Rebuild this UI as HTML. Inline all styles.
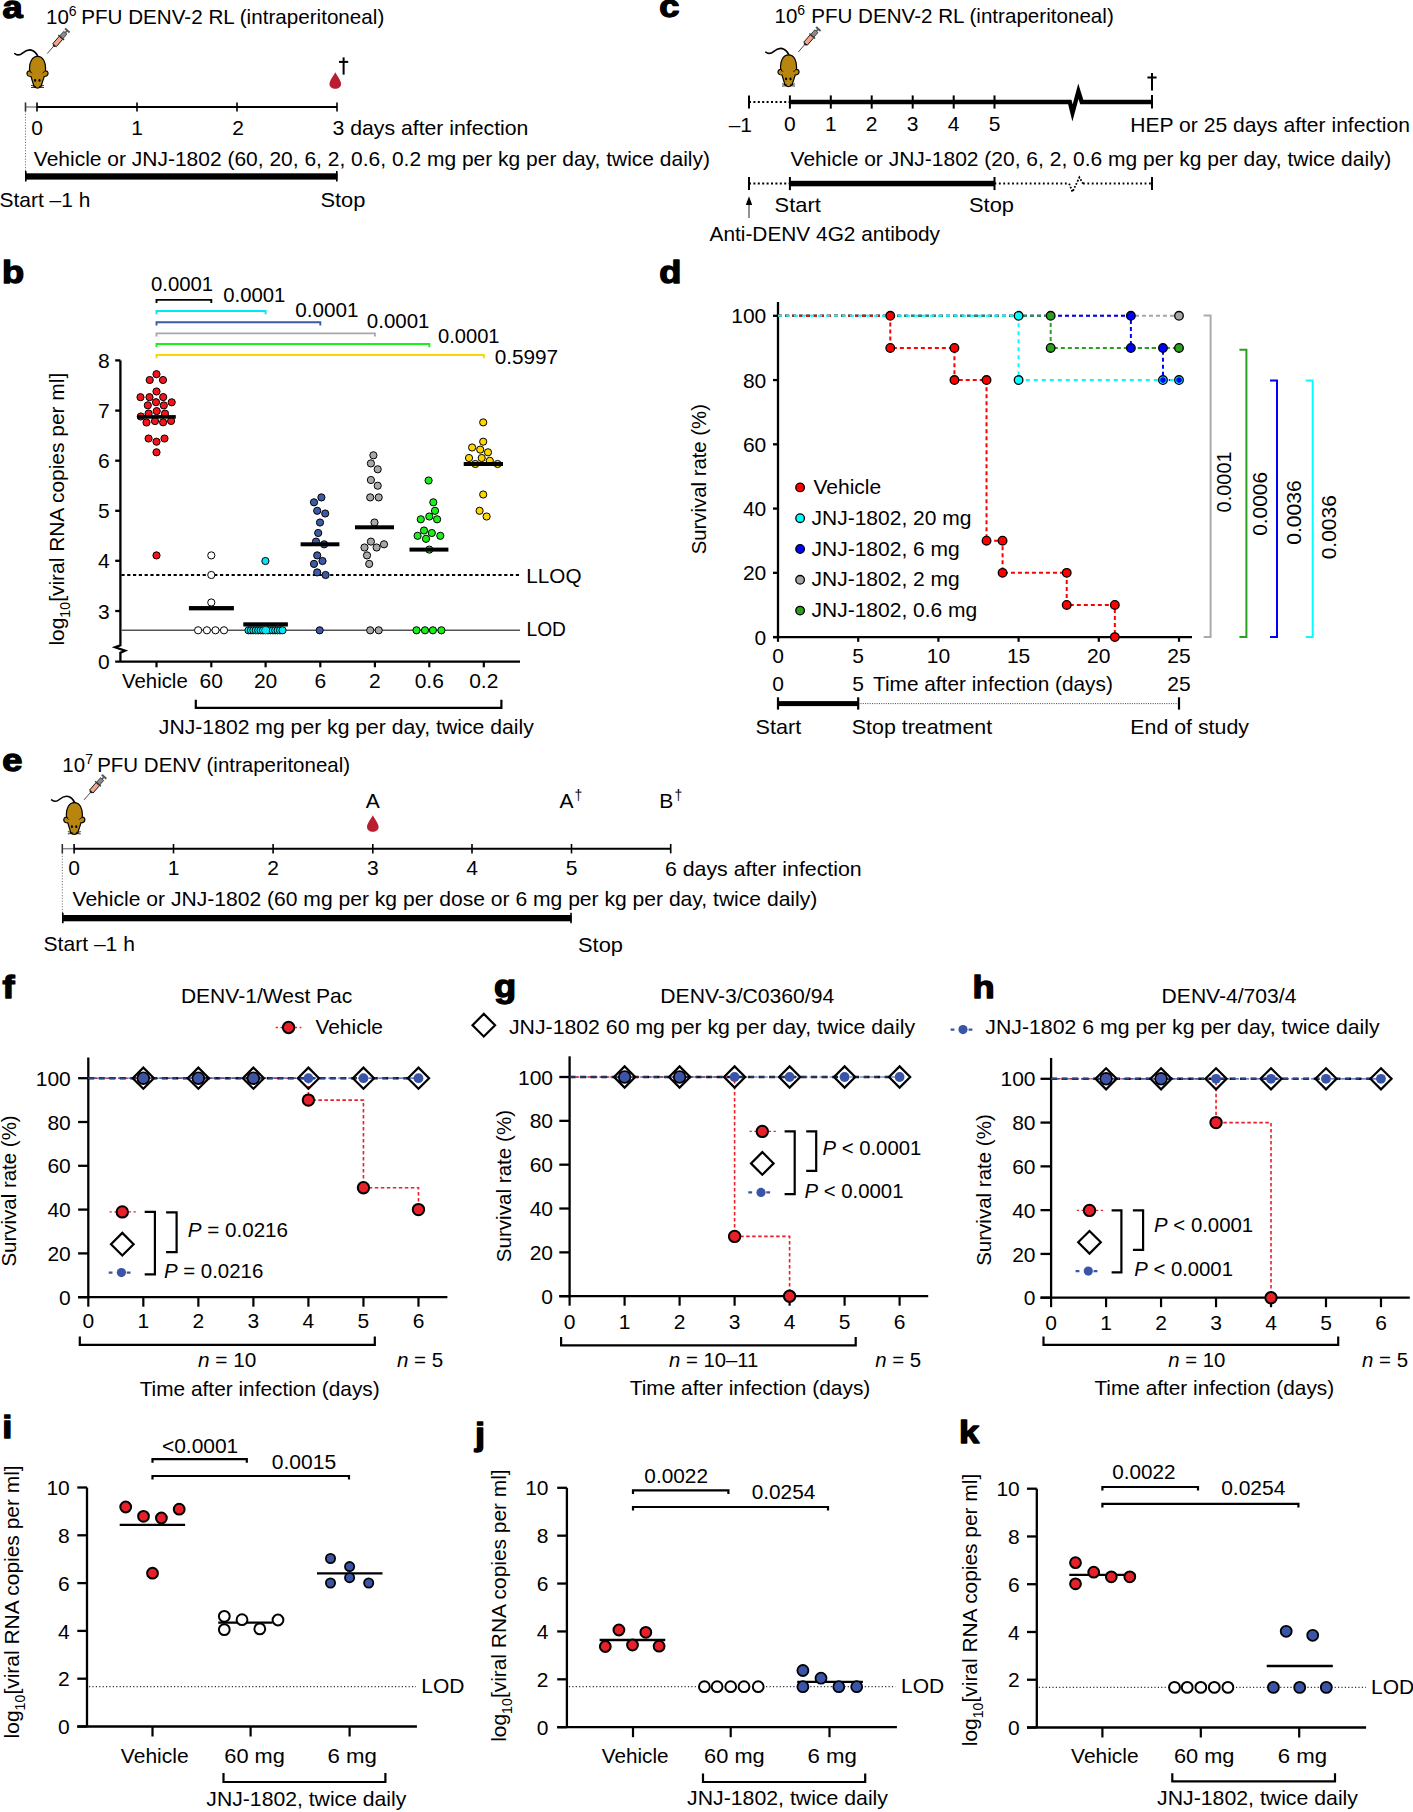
<!DOCTYPE html>
<html><head><meta charset="utf-8"><style>
html,body{margin:0;padding:0;background:#fff;}
svg{display:block;}
text{font-family:"Liberation Sans",sans-serif;font-size:21px;fill:#000;}
</style></head><body>
<svg width="1413" height="1812" viewBox="0 0 1413 1812">
<defs><g id="mouse">
<path d="M4.8,28.6 C7.5,30.5 10.5,30 12.5,28.2 C15,26 19,24 22.5,25.5 C25,26.5 26.5,28.5 28,31.5" fill="none" stroke="#000" stroke-width="1.6" stroke-linecap="round"/>
<path d="M27.6,31.3 C33,31.3 35.6,37 35.6,43.5 C35.6,44.5 35.5,45.5 35.3,46 C37.5,45.5 38.3,47.5 38,49 C37.6,51 36,51.5 34.2,51.5 L31,61.5 C29.5,63.6 25.5,63.6 24,61.5 L21,51.5 C19,51.5 17.3,50.8 17,49 C16.8,47.3 18,45.5 20,46 C19.7,45.5 19.5,44.5 19.5,43.5 C19.5,37 22.2,31.3 27.6,31.3 Z" fill="#b8860e" stroke="#000" stroke-width="1.2"/>
<path d="M22,48.3 C21.5,47.5 20.8,47 20,46.5 M32.5,48.3 C33,47.5 33.8,47 34.6,46.5" fill="none" stroke="#000" stroke-width="1"/>
<ellipse cx="25.1" cy="55.4" rx="1.1" ry="1.4" fill="#000"/><ellipse cx="29.5" cy="55.4" rx="1.1" ry="1.4" fill="#000"/>
<path d="M21,60.3 L26,61.5 M21,62.6 L26,62.2 M34,60.3 L29,61.5 M34,62.6 L29,62.2" stroke="#000" stroke-width="0.8"/>
<g transform="translate(37.3 28.5) rotate(-49)">
<line x1="0" y1="0" x2="10.5" y2="0" stroke="#444" stroke-width="0.9"/>
<path d="M9.5,-0.9 L11,-2.2 L11,2.2 L9.5,0.9 Z" fill="#222"/>
<rect x="11" y="-2.3" width="10" height="4.6" fill="#f2a48a" stroke="#111" stroke-width="0.9"/>
<rect x="21" y="-2.1" width="6.5" height="4.2" fill="#8a8a8a" stroke="#333" stroke-width="0.8"/>
<line x1="21.2" y1="-3.8" x2="21.2" y2="3.8" stroke="#333" stroke-width="1.3"/>
<line x1="27.5" y1="0" x2="30.5" y2="0" stroke="#555" stroke-width="1.6"/>
<line x1="30.5" y1="-3" x2="30.5" y2="3" stroke="#555" stroke-width="2"/>
</g>
</g><g id="drop"><path d="M0,-10.8 C2,-7 5.8,-2.5 5.8,0.8 C5.8,4 3.2,5.8 0,5.8 C-3.2,5.8 -5.8,4 -5.8,0.8 C-5.8,-2.5 -2,-7 0,-10.8 Z" fill="#b91e30"/></g></defs>
<rect width="1413" height="1812" fill="#fff"/>
<text transform="translate(2.56 18.8) scale(1.17 1)" x="0" y="-0.65" font-weight="bold" stroke="#000" stroke-width="1.3" stroke-linejoin="round" style="font-size:31px">a</text>
<text x="46" y="23.5" style="font-size:20.5px">10</text>
<text x="68.8" y="16" style="font-size:14px">6</text>
<text x="81.15" y="23.5" textLength="303.11" lengthAdjust="spacingAndGlyphs">PFU DENV-2 RL (intraperitoneal)</text>
<use href="#mouse" transform="translate(10 25)"/>
<use href="#drop" transform="translate(335.3 83)"/>
<line x1="343.6" y1="57.4" x2="343.6" y2="74.6" stroke="#000" stroke-width="2"/>
<line x1="339" y1="61.9" x2="348.2" y2="61.9" stroke="#000" stroke-width="2"/>
<line x1="25.5" y1="107" x2="37" y2="107" stroke="#888" stroke-width="1.5"/>
<line x1="37" y1="107" x2="337" y2="107" stroke="#000" stroke-width="2"/>
<line x1="25.5" y1="102.4" x2="25.5" y2="111.6" stroke="#333" stroke-width="1.6"/>
<line x1="37" y1="102.4" x2="37" y2="111.6" stroke="#000" stroke-width="1.6"/>
<line x1="137" y1="102.4" x2="137" y2="111.6" stroke="#000" stroke-width="1.6"/>
<line x1="237" y1="102.4" x2="237" y2="111.6" stroke="#000" stroke-width="1.6"/>
<line x1="337" y1="102.4" x2="337" y2="111.6" stroke="#000" stroke-width="1.6"/>
<text x="37" y="135" text-anchor="middle">0</text>
<text x="137" y="135" text-anchor="middle">1</text>
<text x="238" y="135" text-anchor="middle">2</text>
<text x="332.45" y="135" textLength="195.99" lengthAdjust="spacingAndGlyphs">3 days after infection</text>
<line x1="25.5" y1="111" x2="25.5" y2="173" stroke="#777" stroke-width="1" stroke-dasharray="1.2 1.6"/>
<text x="33.8" y="165.6" textLength="676.18" lengthAdjust="spacingAndGlyphs">Vehicle or JNJ-1802 (60, 20, 6, 2, 0.6, 0.2 mg per kg per day, twice daily)</text>
<rect x="25" y="173.3" width="312.5" height="6.3" fill="#000"/>
<line x1="25.8" y1="171" x2="25.8" y2="181.5" stroke="#000" stroke-width="1.6"/>
<line x1="336.8" y1="171" x2="336.8" y2="181.5" stroke="#000" stroke-width="1.6"/>
<text x="-0.44" y="206.5" textLength="90.83" lengthAdjust="spacingAndGlyphs">Start –1 h</text>
<text x="320.42" y="206.6" textLength="45.01" lengthAdjust="spacingAndGlyphs">Stop</text>
<text transform="translate(659.2 18) scale(1.17 1)" x="0" y="-0.65" font-weight="bold" stroke="#000" stroke-width="1.3" stroke-linejoin="round" style="font-size:31px">c</text>
<text x="774.6" y="22.6" style="font-size:20.5px">10</text>
<text x="797.3" y="15.2" style="font-size:14px">6</text>
<text x="811.15" y="22.6" textLength="302.6" lengthAdjust="spacingAndGlyphs">PFU DENV-2 RL (intraperitoneal)</text>
<use href="#mouse" transform="translate(761 23.5)"/>
<line x1="749" y1="102" x2="789.9" y2="102" stroke="#000" stroke-width="2" stroke-dasharray="2 2.4"/>
<polyline points="789.9,102 1069.8,102 1072.5,113 1078.4,91.3 1081.7,102 1152,102" fill="none" stroke="#000" stroke-width="4.3" stroke-linejoin="miter" stroke-miterlimit="10"/>
<line x1="749" y1="95.4" x2="749" y2="108.6" stroke="#000" stroke-width="2"/>
<line x1="789.9" y1="95.4" x2="789.9" y2="108.6" stroke="#000" stroke-width="2"/>
<line x1="830.8" y1="95.4" x2="830.8" y2="108.6" stroke="#000" stroke-width="2"/>
<line x1="871.7" y1="95.4" x2="871.7" y2="108.6" stroke="#000" stroke-width="2"/>
<line x1="912.7" y1="95.4" x2="912.7" y2="108.6" stroke="#000" stroke-width="2"/>
<line x1="953.7" y1="95.4" x2="953.7" y2="108.6" stroke="#000" stroke-width="2"/>
<line x1="994.5" y1="95.4" x2="994.5" y2="108.6" stroke="#000" stroke-width="2"/>
<line x1="1152" y1="95" x2="1152" y2="108.5" stroke="#000" stroke-width="2"/>
<line x1="1152" y1="73" x2="1152" y2="90.6" stroke="#000" stroke-width="2"/>
<line x1="1147.4" y1="77.5" x2="1156.6" y2="77.5" stroke="#000" stroke-width="2"/>
<text x="752" y="131.8" text-anchor="end">–1</text>
<text x="789.9" y="131.3" text-anchor="middle">0</text>
<text x="830.8" y="131.3" text-anchor="middle">1</text>
<text x="871.7" y="131.3" text-anchor="middle">2</text>
<text x="912.7" y="131.3" text-anchor="middle">3</text>
<text x="953.7" y="131.3" text-anchor="middle">4</text>
<text x="994.5" y="131.3" text-anchor="middle">5</text>
<text x="1130.31" y="131.5" textLength="279.7" lengthAdjust="spacingAndGlyphs">HEP or 25 days after infection</text>
<text x="790.6" y="165.8" textLength="600.71" lengthAdjust="spacingAndGlyphs">Vehicle or JNJ-1802 (20, 6, 2, 0.6 mg per kg per day, twice daily)</text>
<line x1="749" y1="183.5" x2="789.9" y2="183.5" stroke="#000" stroke-width="2" stroke-dasharray="2 2.4"/>
<rect x="789.9" y="180.8" width="204.6" height="5.5" fill="#000"/>
<line x1="994.5" y1="183.5" x2="1069.1" y2="183.5" stroke="#000" stroke-width="2" stroke-dasharray="1.8 2.6"/>
<polyline points="1069.1,183.6 1072.5,191.9 1079.4,177.4 1083,183.6" fill="none" stroke="#000" stroke-width="1.8" stroke-dasharray="1.8 1.6"/>
<line x1="1083" y1="183.5" x2="1152" y2="183.5" stroke="#000" stroke-width="2" stroke-dasharray="1.8 2.6"/>
<line x1="749" y1="177" x2="749" y2="190.1" stroke="#000" stroke-width="2"/>
<line x1="789.9" y1="177" x2="789.9" y2="190.1" stroke="#000" stroke-width="2"/>
<line x1="994.5" y1="177" x2="994.5" y2="190.1" stroke="#000" stroke-width="2"/>
<line x1="1152" y1="177" x2="1152" y2="190.1" stroke="#000" stroke-width="2"/>
<line x1="749" y1="217.9" x2="749" y2="203" stroke="#777" stroke-width="1.6"/>
<path d="M749,196.3 L752.2,205 L745.8,205 Z" fill="#000"/>
<text x="774.62" y="211.7" textLength="46.13" lengthAdjust="spacingAndGlyphs">Start</text>
<text x="969.02" y="211.7" textLength="44.9" lengthAdjust="spacingAndGlyphs">Stop</text>
<text x="709.5" y="240.6" textLength="230.53" lengthAdjust="spacingAndGlyphs">Anti-DENV 4G2 antibody</text>
<text transform="translate(2.2 772) scale(1.17 1)" x="0" y="-0.65" font-weight="bold" stroke="#000" stroke-width="1.3" stroke-linejoin="round" style="font-size:31px">e</text>
<text x="62.3" y="771.8" style="font-size:20.5px">10</text>
<text x="85.3" y="764" style="font-size:14px">7</text>
<text x="97.16" y="771.8" textLength="252.93" lengthAdjust="spacingAndGlyphs">PFU DENV (intraperitoneal)</text>
<use href="#mouse" transform="translate(46.8 771.3)"/>
<text x="372.8" y="807.6" text-anchor="middle">A</text>
<use href="#drop" transform="translate(372.8 826)"/>
<text x="559.6" y="808.4">A</text>
<text x="574.5" y="800" style="font-size:14px">†</text>
<text x="659.2" y="808.4">B</text>
<text x="674.5" y="800" style="font-size:14px">†</text>
<line x1="62.3" y1="848.7" x2="74.1" y2="848.7" stroke="#888" stroke-width="1.5"/>
<line x1="74.1" y1="848.7" x2="670.7" y2="848.7" stroke="#000" stroke-width="2"/>
<line x1="62.3" y1="844" x2="62.3" y2="853.4" stroke="#333" stroke-width="1.6"/>
<line x1="74.1" y1="844" x2="74.1" y2="853.4" stroke="#000" stroke-width="1.6"/>
<line x1="173.5" y1="844" x2="173.5" y2="853.4" stroke="#000" stroke-width="1.6"/>
<line x1="273.1" y1="844" x2="273.1" y2="853.4" stroke="#000" stroke-width="1.6"/>
<line x1="372.8" y1="844" x2="372.8" y2="853.4" stroke="#000" stroke-width="1.6"/>
<line x1="472" y1="844" x2="472" y2="853.4" stroke="#000" stroke-width="1.6"/>
<line x1="571.5" y1="844" x2="571.5" y2="853.4" stroke="#000" stroke-width="1.6"/>
<line x1="670.7" y1="844" x2="670.7" y2="853.4" stroke="#000" stroke-width="1.6"/>
<text x="74.1" y="874.8" text-anchor="middle">0</text>
<text x="173.5" y="874.8" text-anchor="middle">1</text>
<text x="273.1" y="874.8" text-anchor="middle">2</text>
<text x="372.8" y="874.8" text-anchor="middle">3</text>
<text x="472" y="874.8" text-anchor="middle">4</text>
<text x="571.5" y="874.8" text-anchor="middle">5</text>
<text x="664.93" y="875.5" textLength="196.81" lengthAdjust="spacingAndGlyphs">6 days after infection</text>
<line x1="62.3" y1="853" x2="62.3" y2="915" stroke="#777" stroke-width="1" stroke-dasharray="1.2 1.6"/>
<text x="72.49" y="905.8" textLength="744.82" lengthAdjust="spacingAndGlyphs">Vehicle or JNJ-1802 (60 mg per kg per dose or 6 mg per kg per day, twice daily)</text>
<rect x="62" y="915" width="509.5" height="6.3" fill="#000"/>
<line x1="62.8" y1="912.7" x2="62.8" y2="923.3" stroke="#000" stroke-width="1.6"/>
<line x1="571" y1="912.7" x2="571" y2="923.3" stroke="#000" stroke-width="1.6"/>
<text x="43.55" y="951" textLength="91.34" lengthAdjust="spacingAndGlyphs">Start –1 h</text>
<text x="578.02" y="952" textLength="44.9" lengthAdjust="spacingAndGlyphs">Stop</text>
<text transform="translate(2.09 284) scale(1.17 1)" x="0" y="-0.65" font-weight="bold" stroke="#000" stroke-width="1.3" stroke-linejoin="round" style="font-size:31px">b</text>
<path d="M156.5,303.1 L156.5,299.9 L211.3,299.9 L211.3,303.1" fill="none" stroke="#000" stroke-width="1.9"/>
<path d="M156.5,314.2 L156.5,311 L265.6,311 L265.6,314.2" fill="none" stroke="#00e8f5" stroke-width="1.9"/>
<path d="M156.5,325.4 L156.5,322.2 L320.3,322.2 L320.3,325.4" fill="none" stroke="#3c5aa8" stroke-width="1.9"/>
<path d="M156.5,336.6 L156.5,333.4 L374.9,333.4 L374.9,336.6" fill="none" stroke="#a8a8a8" stroke-width="1.9"/>
<path d="M156.5,347.2 L156.5,344 L429.3,344 L429.3,347.2" fill="none" stroke="#1aef1a" stroke-width="1.9"/>
<path d="M156.5,358.2 L156.5,355 L483.8,355 L483.8,358.2" fill="none" stroke="#ffd500" stroke-width="1.9"/>
<text x="150.99" y="291.4" textLength="62.2" lengthAdjust="spacingAndGlyphs" style="font-size:20px">0.0001</text>
<text x="223.19" y="301.6" textLength="62.2" lengthAdjust="spacingAndGlyphs" style="font-size:20px">0.0001</text>
<text x="295.17" y="316.9" textLength="63.23" lengthAdjust="spacingAndGlyphs" style="font-size:20px">0.0001</text>
<text x="366.88" y="328" textLength="62.61" lengthAdjust="spacingAndGlyphs" style="font-size:20px">0.0001</text>
<text x="437.99" y="343.4" textLength="61.58" lengthAdjust="spacingAndGlyphs" style="font-size:20px">0.0001</text>
<text x="494.67" y="363.6" textLength="63.44" lengthAdjust="spacingAndGlyphs" style="font-size:20px">0.5997</text>
<polyline points="120.4,360.4 120.4,645.3 115.1,647.3 125,650.7 120.4,652.7 120.4,661.7" fill="none" stroke="#000" stroke-width="2.3" stroke-linejoin="miter"/>
<line x1="115.2" y1="360.4" x2="120.4" y2="360.4" stroke="#000" stroke-width="2.3"/>
<text x="109.8" y="368" text-anchor="end">8</text>
<line x1="115.2" y1="410.6" x2="120.4" y2="410.6" stroke="#000" stroke-width="2.3"/>
<text x="109.8" y="418.2" text-anchor="end">7</text>
<line x1="115.2" y1="460.7" x2="120.4" y2="460.7" stroke="#000" stroke-width="2.3"/>
<text x="109.8" y="468.3" text-anchor="end">6</text>
<line x1="115.2" y1="510.8" x2="120.4" y2="510.8" stroke="#000" stroke-width="2.3"/>
<text x="109.8" y="518.4" text-anchor="end">5</text>
<line x1="115.2" y1="560.8" x2="120.4" y2="560.8" stroke="#000" stroke-width="2.3"/>
<text x="109.8" y="568.4" text-anchor="end">4</text>
<line x1="115.2" y1="611" x2="120.4" y2="611" stroke="#000" stroke-width="2.3"/>
<text x="109.8" y="618.6" text-anchor="end">3</text>
<text x="109.8" y="669.4" text-anchor="end">0</text>
<line x1="115.2" y1="661.7" x2="520" y2="661.7" stroke="#000" stroke-width="2.3"/>
<line x1="156.5" y1="661.7" x2="156.5" y2="667.3" stroke="#000" stroke-width="2.2"/>
<line x1="211.3" y1="661.7" x2="211.3" y2="667.3" stroke="#000" stroke-width="2.2"/>
<line x1="265.6" y1="661.7" x2="265.6" y2="667.3" stroke="#000" stroke-width="2.2"/>
<line x1="320.3" y1="661.7" x2="320.3" y2="667.3" stroke="#000" stroke-width="2.2"/>
<line x1="374.9" y1="661.7" x2="374.9" y2="667.3" stroke="#000" stroke-width="2.2"/>
<line x1="429.3" y1="661.7" x2="429.3" y2="667.3" stroke="#000" stroke-width="2.2"/>
<line x1="483.8" y1="661.7" x2="483.8" y2="667.3" stroke="#000" stroke-width="2.2"/>
<text x="122.1" y="687.6" textLength="65.61" lengthAdjust="spacingAndGlyphs">Vehicle</text>
<text x="211.3" y="687.6" text-anchor="middle">60</text>
<text x="265.6" y="687.6" text-anchor="middle">20</text>
<text x="320.3" y="687.6" text-anchor="middle">6</text>
<text x="374.9" y="687.6" text-anchor="middle">2</text>
<text x="429.3" y="687.6" text-anchor="middle">0.6</text>
<text x="483.8" y="687.6" text-anchor="middle">0.2</text>
<polyline points="195.8,699.7 195.8,707.8 501.4,707.8 501.4,699.7" fill="none" stroke="#000" stroke-width="2.2"/>
<text x="158.88" y="733.7" textLength="374.86" lengthAdjust="spacingAndGlyphs">JNJ-1802 mg per kg per day, twice daily</text>
<line x1="121.4" y1="575" x2="520" y2="575" stroke="#000" stroke-width="1.8" stroke-dasharray="3.2 2.6"/>
<text x="526.35" y="583" textLength="55.15" lengthAdjust="spacingAndGlyphs">LLOQ</text>
<line x1="121.4" y1="630.3" x2="520" y2="630.3" stroke="#555" stroke-width="1.6"/>
<text x="526.47" y="636.3" textLength="39.42" lengthAdjust="spacingAndGlyphs">LOD</text>
<text transform="translate(63.7 645.6) rotate(-90)" style="font-size:20.93px"><tspan>log</tspan><tspan style="font-size:14.23px" dy="6.28">10</tspan><tspan dy="-6.28">[viral RNA copies per ml]</tspan></text>
<circle cx="156.5" cy="374.2" r="3.6" fill="#f5141b" stroke="#000" stroke-width="1"/>
<circle cx="149.7" cy="380" r="3.6" fill="#f5141b" stroke="#000" stroke-width="1"/>
<circle cx="163" cy="380" r="3.6" fill="#f5141b" stroke="#000" stroke-width="1"/>
<circle cx="156.5" cy="391.5" r="3.6" fill="#f5141b" stroke="#000" stroke-width="1"/>
<circle cx="140.5" cy="397.2" r="3.6" fill="#f5141b" stroke="#000" stroke-width="1"/>
<circle cx="149.5" cy="397.2" r="3.6" fill="#f5141b" stroke="#000" stroke-width="1"/>
<circle cx="163.2" cy="397.1" r="3.6" fill="#f5141b" stroke="#000" stroke-width="1"/>
<circle cx="171.7" cy="402.3" r="3.6" fill="#f5141b" stroke="#000" stroke-width="1"/>
<circle cx="156" cy="402.2" r="3.6" fill="#f5141b" stroke="#000" stroke-width="1"/>
<circle cx="147.8" cy="405.3" r="3.6" fill="#f5141b" stroke="#000" stroke-width="1"/>
<circle cx="163.8" cy="405.4" r="3.6" fill="#f5141b" stroke="#000" stroke-width="1"/>
<circle cx="156.7" cy="411.1" r="3.6" fill="#f5141b" stroke="#000" stroke-width="1"/>
<circle cx="148.6" cy="413.5" r="3.6" fill="#f5141b" stroke="#000" stroke-width="1"/>
<circle cx="165" cy="413.6" r="3.6" fill="#f5141b" stroke="#000" stroke-width="1"/>
<circle cx="140.8" cy="416.5" r="3.6" fill="#f5141b" stroke="#000" stroke-width="1"/>
<circle cx="146.5" cy="422.5" r="3.6" fill="#f5141b" stroke="#000" stroke-width="1"/>
<circle cx="155" cy="421.1" r="3.6" fill="#f5141b" stroke="#000" stroke-width="1"/>
<circle cx="163.1" cy="422.3" r="3.6" fill="#f5141b" stroke="#000" stroke-width="1"/>
<circle cx="171.1" cy="420.9" r="3.6" fill="#f5141b" stroke="#000" stroke-width="1"/>
<circle cx="148.6" cy="438.5" r="3.6" fill="#f5141b" stroke="#000" stroke-width="1"/>
<circle cx="164.5" cy="438.5" r="3.6" fill="#f5141b" stroke="#000" stroke-width="1"/>
<circle cx="156.5" cy="441.7" r="3.6" fill="#f5141b" stroke="#000" stroke-width="1"/>
<circle cx="156.5" cy="452.3" r="3.6" fill="#f5141b" stroke="#000" stroke-width="1"/>
<circle cx="156.5" cy="555.4" r="3.6" fill="#f5141b" stroke="#000" stroke-width="1"/>
<circle cx="211.3" cy="555.4" r="3.6" fill="#fff" stroke="#000" stroke-width="1"/>
<circle cx="211.3" cy="575" r="3.6" fill="#fff" stroke="#000" stroke-width="1"/>
<circle cx="211.3" cy="602.5" r="3.6" fill="#fff" stroke="#000" stroke-width="1"/>
<circle cx="198.1" cy="630.3" r="3.6" fill="#fff" stroke="#000" stroke-width="1"/>
<circle cx="206.9" cy="630.3" r="3.6" fill="#fff" stroke="#000" stroke-width="1"/>
<circle cx="215.5" cy="630.3" r="3.6" fill="#fff" stroke="#000" stroke-width="1"/>
<circle cx="224" cy="630.3" r="3.6" fill="#fff" stroke="#000" stroke-width="1"/>
<circle cx="265.4" cy="561" r="3.6" fill="#00e8f5" stroke="#000" stroke-width="1"/>
<circle cx="248.5" cy="630.3" r="3.6" fill="#00e8f5" stroke="#000" stroke-width="1"/>
<circle cx="250.93" cy="630.3" r="3.6" fill="#00e8f5" stroke="#000" stroke-width="1"/>
<circle cx="253.36" cy="630.3" r="3.6" fill="#00e8f5" stroke="#000" stroke-width="1"/>
<circle cx="255.79" cy="630.3" r="3.6" fill="#00e8f5" stroke="#000" stroke-width="1"/>
<circle cx="258.21" cy="630.3" r="3.6" fill="#00e8f5" stroke="#000" stroke-width="1"/>
<circle cx="260.64" cy="630.3" r="3.6" fill="#00e8f5" stroke="#000" stroke-width="1"/>
<circle cx="263.07" cy="630.3" r="3.6" fill="#00e8f5" stroke="#000" stroke-width="1"/>
<circle cx="265.5" cy="630.3" r="3.6" fill="#00e8f5" stroke="#000" stroke-width="1"/>
<circle cx="267.93" cy="630.3" r="3.6" fill="#00e8f5" stroke="#000" stroke-width="1"/>
<circle cx="270.36" cy="630.3" r="3.6" fill="#00e8f5" stroke="#000" stroke-width="1"/>
<circle cx="272.79" cy="630.3" r="3.6" fill="#00e8f5" stroke="#000" stroke-width="1"/>
<circle cx="275.21" cy="630.3" r="3.6" fill="#00e8f5" stroke="#000" stroke-width="1"/>
<circle cx="277.64" cy="630.3" r="3.6" fill="#00e8f5" stroke="#000" stroke-width="1"/>
<circle cx="280.07" cy="630.3" r="3.6" fill="#00e8f5" stroke="#000" stroke-width="1"/>
<circle cx="282.5" cy="630.3" r="3.6" fill="#00e8f5" stroke="#000" stroke-width="1"/>
<circle cx="265.5" cy="630.3" r="3.3" fill="#00e8f5"/>
<circle cx="321.4" cy="497.4" r="3.6" fill="#3c5aa8" stroke="#000" stroke-width="1"/>
<circle cx="314" cy="502.3" r="3.6" fill="#3c5aa8" stroke="#000" stroke-width="1"/>
<circle cx="317.2" cy="510.8" r="3.6" fill="#3c5aa8" stroke="#000" stroke-width="1"/>
<circle cx="325.2" cy="513.5" r="3.6" fill="#3c5aa8" stroke="#000" stroke-width="1"/>
<circle cx="320" cy="522.5" r="3.6" fill="#3c5aa8" stroke="#000" stroke-width="1"/>
<circle cx="318.2" cy="533" r="3.6" fill="#3c5aa8" stroke="#000" stroke-width="1"/>
<circle cx="316" cy="541.6" r="3.6" fill="#3c5aa8" stroke="#000" stroke-width="1"/>
<circle cx="324.2" cy="544.3" r="3.6" fill="#3c5aa8" stroke="#000" stroke-width="1"/>
<circle cx="317.2" cy="555.4" r="3.6" fill="#3c5aa8" stroke="#000" stroke-width="1"/>
<circle cx="322.5" cy="561" r="3.6" fill="#3c5aa8" stroke="#000" stroke-width="1"/>
<circle cx="314" cy="563.9" r="3.6" fill="#3c5aa8" stroke="#000" stroke-width="1"/>
<circle cx="317.2" cy="572.4" r="3.6" fill="#3c5aa8" stroke="#000" stroke-width="1"/>
<circle cx="325.6" cy="575" r="3.6" fill="#3c5aa8" stroke="#000" stroke-width="1"/>
<circle cx="319.7" cy="630.3" r="3.6" fill="#3c5aa8" stroke="#000" stroke-width="1"/>
<circle cx="373.4" cy="455.3" r="3.6" fill="#a8a8a8" stroke="#000" stroke-width="1"/>
<circle cx="370.9" cy="463.4" r="3.6" fill="#a8a8a8" stroke="#000" stroke-width="1"/>
<circle cx="377.7" cy="469.3" r="3.6" fill="#a8a8a8" stroke="#000" stroke-width="1"/>
<circle cx="370.9" cy="480" r="3.6" fill="#a8a8a8" stroke="#000" stroke-width="1"/>
<circle cx="377.7" cy="485.7" r="3.6" fill="#a8a8a8" stroke="#000" stroke-width="1"/>
<circle cx="370.2" cy="497.4" r="3.6" fill="#a8a8a8" stroke="#000" stroke-width="1"/>
<circle cx="378.7" cy="497.4" r="3.6" fill="#a8a8a8" stroke="#000" stroke-width="1"/>
<circle cx="374.5" cy="522.5" r="3.6" fill="#a8a8a8" stroke="#000" stroke-width="1"/>
<circle cx="370.9" cy="541.6" r="3.6" fill="#a8a8a8" stroke="#000" stroke-width="1"/>
<circle cx="364.5" cy="547.5" r="3.6" fill="#a8a8a8" stroke="#000" stroke-width="1"/>
<circle cx="376.6" cy="547.5" r="3.6" fill="#a8a8a8" stroke="#000" stroke-width="1"/>
<circle cx="384" cy="544.3" r="3.6" fill="#a8a8a8" stroke="#000" stroke-width="1"/>
<circle cx="367" cy="555.4" r="3.6" fill="#a8a8a8" stroke="#000" stroke-width="1"/>
<circle cx="369.2" cy="563.9" r="3.6" fill="#a8a8a8" stroke="#000" stroke-width="1"/>
<circle cx="370.2" cy="630.3" r="3.6" fill="#a8a8a8" stroke="#000" stroke-width="1"/>
<circle cx="378.7" cy="630.3" r="3.6" fill="#a8a8a8" stroke="#000" stroke-width="1"/>
<circle cx="428.6" cy="480.5" r="3.6" fill="#1aef1a" stroke="#000" stroke-width="1"/>
<circle cx="433.3" cy="502.3" r="3.6" fill="#1aef1a" stroke="#000" stroke-width="1"/>
<circle cx="435" cy="510.8" r="3.6" fill="#1aef1a" stroke="#000" stroke-width="1"/>
<circle cx="420.8" cy="519.3" r="3.6" fill="#1aef1a" stroke="#000" stroke-width="1"/>
<circle cx="429.3" cy="516.5" r="3.6" fill="#1aef1a" stroke="#000" stroke-width="1"/>
<circle cx="437.1" cy="519.3" r="3.6" fill="#1aef1a" stroke="#000" stroke-width="1"/>
<circle cx="424" cy="530.5" r="3.6" fill="#1aef1a" stroke="#000" stroke-width="1"/>
<circle cx="431.8" cy="533" r="3.6" fill="#1aef1a" stroke="#000" stroke-width="1"/>
<circle cx="417.6" cy="535.8" r="3.6" fill="#1aef1a" stroke="#000" stroke-width="1"/>
<circle cx="440.3" cy="535.8" r="3.6" fill="#1aef1a" stroke="#000" stroke-width="1"/>
<circle cx="426" cy="538.8" r="3.6" fill="#1aef1a" stroke="#000" stroke-width="1"/>
<circle cx="429.3" cy="549.6" r="3.6" fill="#1aef1a" stroke="#000" stroke-width="1"/>
<circle cx="416.5" cy="630.3" r="3.6" fill="#1aef1a" stroke="#000" stroke-width="1"/>
<circle cx="425" cy="630.3" r="3.6" fill="#1aef1a" stroke="#000" stroke-width="1"/>
<circle cx="432.9" cy="630.3" r="3.6" fill="#1aef1a" stroke="#000" stroke-width="1"/>
<circle cx="441.4" cy="630.3" r="3.6" fill="#1aef1a" stroke="#000" stroke-width="1"/>
<circle cx="483.2" cy="422.4" r="3.6" fill="#ffd500" stroke="#000" stroke-width="1"/>
<circle cx="483.2" cy="441.7" r="3.6" fill="#ffd500" stroke="#000" stroke-width="1"/>
<circle cx="472.1" cy="447.5" r="3.6" fill="#ffd500" stroke="#000" stroke-width="1"/>
<circle cx="480.2" cy="449.6" r="3.6" fill="#ffd500" stroke="#000" stroke-width="1"/>
<circle cx="488" cy="452.3" r="3.6" fill="#ffd500" stroke="#000" stroke-width="1"/>
<circle cx="469" cy="458" r="3.6" fill="#ffd500" stroke="#000" stroke-width="1"/>
<circle cx="481.7" cy="458" r="3.6" fill="#ffd500" stroke="#000" stroke-width="1"/>
<circle cx="489.8" cy="460.8" r="3.6" fill="#ffd500" stroke="#000" stroke-width="1"/>
<circle cx="475.3" cy="464" r="3.6" fill="#ffd500" stroke="#000" stroke-width="1"/>
<circle cx="497.6" cy="464" r="3.6" fill="#ffd500" stroke="#000" stroke-width="1"/>
<circle cx="483.2" cy="494.5" r="3.6" fill="#ffd500" stroke="#000" stroke-width="1"/>
<circle cx="479.6" cy="510.8" r="3.6" fill="#ffd500" stroke="#000" stroke-width="1"/>
<circle cx="486.6" cy="516.5" r="3.6" fill="#ffd500" stroke="#000" stroke-width="1"/>
<rect x="137" y="415.1" width="38.8" height="3.6" fill="#000"/>
<rect x="188.9" y="606.05" width="45" height="4.3" fill="#000"/>
<rect x="243.3" y="622.3" width="44.6" height="4.2" fill="#000"/>
<rect x="300.6" y="542.3" width="38.8" height="4" fill="#000"/>
<rect x="355" y="525.3" width="39" height="4" fill="#000"/>
<rect x="409.5" y="547.6" width="38.9" height="4" fill="#000"/>
<rect x="463.7" y="462" width="39.3" height="4" fill="#000"/>
<text transform="translate(659.2 284) scale(1.17 1)" x="0" y="-0.65" font-weight="bold" stroke="#000" stroke-width="1.3" stroke-linejoin="round" style="font-size:31px">d</text>
<line x1="778" y1="302" x2="778" y2="637.1" stroke="#000" stroke-width="2.3"/>
<line x1="773" y1="637.1" x2="778" y2="637.1" stroke="#000" stroke-width="2.3"/>
<text x="766.3" y="644.7" text-anchor="end">0</text>
<line x1="773" y1="572.84" x2="778" y2="572.84" stroke="#000" stroke-width="2.3"/>
<text x="766.3" y="580.44" text-anchor="end">20</text>
<line x1="773" y1="508.58" x2="778" y2="508.58" stroke="#000" stroke-width="2.3"/>
<text x="766.3" y="516.18" text-anchor="end">40</text>
<line x1="773" y1="444.32" x2="778" y2="444.32" stroke="#000" stroke-width="2.3"/>
<text x="766.3" y="451.92" text-anchor="end">60</text>
<line x1="773" y1="380.06" x2="778" y2="380.06" stroke="#000" stroke-width="2.3"/>
<text x="766.3" y="387.66" text-anchor="end">80</text>
<line x1="773" y1="315.8" x2="778" y2="315.8" stroke="#000" stroke-width="2.3"/>
<text x="766.3" y="323.4" text-anchor="end">100</text>
<line x1="773" y1="637.1" x2="1192" y2="637.1" stroke="#000" stroke-width="2.3"/>
<line x1="778" y1="637.1" x2="778" y2="641.8" stroke="#000" stroke-width="2.2"/>
<text x="778" y="662.6" text-anchor="middle">0</text>
<line x1="858.2" y1="637.1" x2="858.2" y2="641.8" stroke="#000" stroke-width="2.2"/>
<text x="858.2" y="662.6" text-anchor="middle">5</text>
<line x1="938.4" y1="637.1" x2="938.4" y2="641.8" stroke="#000" stroke-width="2.2"/>
<text x="938.4" y="662.6" text-anchor="middle">10</text>
<line x1="1018.6" y1="637.1" x2="1018.6" y2="641.8" stroke="#000" stroke-width="2.2"/>
<text x="1018.6" y="662.6" text-anchor="middle">15</text>
<line x1="1098.8" y1="637.1" x2="1098.8" y2="641.8" stroke="#000" stroke-width="2.2"/>
<text x="1098.8" y="662.6" text-anchor="middle">20</text>
<line x1="1179" y1="637.1" x2="1179" y2="641.8" stroke="#000" stroke-width="2.2"/>
<text x="1179" y="662.6" text-anchor="middle">25</text>
<text x="778" y="691.3" text-anchor="middle">0</text>
<text x="858.2" y="691.3" text-anchor="middle">5</text>
<text x="1179" y="691.3" text-anchor="middle">25</text>
<text x="872.98" y="691.3" textLength="239.92" lengthAdjust="spacingAndGlyphs">Time after infection (days)</text>
<rect x="778" y="701.1" width="80.2" height="5" fill="#000"/>
<line x1="858.2" y1="703.6" x2="1179" y2="703.6" stroke="#444" stroke-width="1" stroke-dasharray="1 1.3"/>
<line x1="778" y1="697.3" x2="778" y2="709.6" stroke="#000" stroke-width="2.2"/>
<line x1="858.2" y1="697.3" x2="858.2" y2="709.6" stroke="#000" stroke-width="2.2"/>
<line x1="1179" y1="697.3" x2="1179" y2="709.6" stroke="#000" stroke-width="2.2"/>
<text x="755.63" y="733.7" textLength="45.52" lengthAdjust="spacingAndGlyphs">Start</text>
<text x="851.84" y="733.7" textLength="140.36" lengthAdjust="spacingAndGlyphs">Stop treatment</text>
<text x="1130.29" y="733.7" textLength="118.69" lengthAdjust="spacingAndGlyphs">End of study</text>
<text transform="translate(705.6 554.3) rotate(-90)" style="font-size:20.34px"><tspan>Survival rate (%)</tspan></text>
<polyline points="778,315.8 1179,315.8" fill="none" stroke="#a6a6a6" stroke-width="2" stroke-dasharray="4 3"/>
<polyline points="778,315.8 1130.88,315.8 1130.88,347.93 1162.96,347.93 1162.96,380.06 1179,380.06" fill="none" stroke="#0000ff" stroke-width="2" stroke-dasharray="4 3"/>
<polyline points="778,315.8 1050.68,315.8 1050.68,347.93 1179,347.93" fill="none" stroke="#2ba01e" stroke-width="2" stroke-dasharray="4 3"/>
<polyline points="778,315.8 890.28,315.8 890.28,347.93 954.44,347.93 954.44,380.06 986.52,380.06 986.52,540.71 1002.56,540.71 1002.56,572.84 1066.72,572.84 1066.72,604.97 1114.84,604.97 1114.84,637.1" fill="none" stroke="#ff0000" stroke-width="2" stroke-dasharray="4 3"/>
<polyline points="778,315.8 1018.6,315.8 1018.6,380.06 1179,380.06" fill="none" stroke="#00ffff" stroke-width="2" stroke-dasharray="4 4"/>
<circle cx="890.28" cy="315.8" r="4.3" fill="#ff0000" stroke="#000" stroke-width="1.3"/>
<circle cx="890.28" cy="347.93" r="4.3" fill="#ff0000" stroke="#000" stroke-width="1.3"/>
<circle cx="954.44" cy="347.93" r="4.3" fill="#ff0000" stroke="#000" stroke-width="1.3"/>
<circle cx="954.44" cy="380.06" r="4.3" fill="#ff0000" stroke="#000" stroke-width="1.3"/>
<circle cx="986.52" cy="380.06" r="4.3" fill="#ff0000" stroke="#000" stroke-width="1.3"/>
<circle cx="986.52" cy="540.71" r="4.3" fill="#ff0000" stroke="#000" stroke-width="1.3"/>
<circle cx="1002.56" cy="540.71" r="4.3" fill="#ff0000" stroke="#000" stroke-width="1.3"/>
<circle cx="1002.56" cy="572.84" r="4.3" fill="#ff0000" stroke="#000" stroke-width="1.3"/>
<circle cx="1066.72" cy="572.84" r="4.3" fill="#ff0000" stroke="#000" stroke-width="1.3"/>
<circle cx="1066.72" cy="604.97" r="4.3" fill="#ff0000" stroke="#000" stroke-width="1.3"/>
<circle cx="1114.84" cy="604.97" r="4.3" fill="#ff0000" stroke="#000" stroke-width="1.3"/>
<circle cx="1114.84" cy="637.1" r="4.3" fill="#ff0000" stroke="#000" stroke-width="1.3"/>
<circle cx="1018.6" cy="315.8" r="4.3" fill="#00ffff" stroke="#000" stroke-width="1.3"/>
<circle cx="1018.6" cy="380.06" r="4.3" fill="#00ffff" stroke="#000" stroke-width="1.3"/>
<circle cx="1162.96" cy="380.06" r="4.3" fill="#00ffff" stroke="#000" stroke-width="1.3"/>
<circle cx="1179" cy="380.06" r="4.3" fill="#00ffff" stroke="#000" stroke-width="1.3"/>
<circle cx="1162.96" cy="380.06" r="2.8" fill="#0000ff"/>
<circle cx="1179" cy="380.06" r="2.8" fill="#0000ff"/>
<circle cx="1050.68" cy="315.8" r="4.3" fill="#2ba01e" stroke="#000" stroke-width="1.3"/>
<circle cx="1050.68" cy="347.93" r="4.3" fill="#2ba01e" stroke="#000" stroke-width="1.3"/>
<circle cx="1179" cy="347.93" r="4.3" fill="#2ba01e" stroke="#000" stroke-width="1.3"/>
<circle cx="1130.88" cy="315.8" r="4.3" fill="#0000ff" stroke="#000" stroke-width="1.3"/>
<circle cx="1130.88" cy="347.93" r="4.3" fill="#0000ff" stroke="#000" stroke-width="1.3"/>
<circle cx="1162.96" cy="347.93" r="4.3" fill="#0000ff" stroke="#000" stroke-width="1.3"/>
<circle cx="1179" cy="315.8" r="4.3" fill="#a6a6a6" stroke="#000" stroke-width="1.3"/>
<circle cx="800.1" cy="487.4" r="4.3" fill="#ff0000" stroke="#000" stroke-width="1.3"/>
<text x="813.5" y="494">Vehicle</text>
<circle cx="800.1" cy="518.2" r="4.3" fill="#00ffff" stroke="#000" stroke-width="1.3"/>
<text x="811.5" y="524.8">JNJ-1802, 20 mg</text>
<circle cx="800.1" cy="549" r="4.3" fill="#0000ff" stroke="#000" stroke-width="1.3"/>
<text x="811.5" y="555.6">JNJ-1802, 6 mg</text>
<circle cx="800.1" cy="579.8" r="4.3" fill="#a6a6a6" stroke="#000" stroke-width="1.3"/>
<text x="811.5" y="586.4">JNJ-1802, 2 mg</text>
<circle cx="800.1" cy="610.6" r="4.3" fill="#2ba01e" stroke="#000" stroke-width="1.3"/>
<text x="811.5" y="617.2">JNJ-1802, 0.6 mg</text>
<polyline points="1203.6,315.5 1210.6,315.5 1210.6,637.1 1203.6,637.1" fill="none" stroke="#aaaaaa" stroke-width="2"/>
<text transform="translate(1231 511.6) rotate(-90)" x="-0.8" y="0" textLength="60.97" lengthAdjust="spacingAndGlyphs" style="font-size:20px">0.0001</text>
<polyline points="1239.4,349.8 1246.4,349.8 1246.4,637.1 1239.4,637.1" fill="none" stroke="#2ba01e" stroke-width="2"/>
<text transform="translate(1267.4 535) rotate(-90)" x="-0.83" y="0" textLength="63.84" lengthAdjust="spacingAndGlyphs" style="font-size:20px">0.0006</text>
<polyline points="1270,380.5 1277,380.5 1277,637.1 1270,637.1" fill="none" stroke="#0000ff" stroke-width="2"/>
<text transform="translate(1300.5 544) rotate(-90)" x="-0.85" y="0" textLength="64.66" lengthAdjust="spacingAndGlyphs" style="font-size:20px">0.0036</text>
<polyline points="1305.7,380.5 1312.7,380.5 1312.7,637.1 1305.7,637.1" fill="none" stroke="#00ffff" stroke-width="2"/>
<text transform="translate(1336.2 558.5) rotate(-90)" x="-0.84" y="0" textLength="64.15" lengthAdjust="spacingAndGlyphs" style="font-size:20px">0.0036</text>
<text transform="translate(2.61 999) scale(1.17 1)" x="0" y="-0.65" font-weight="bold" stroke="#000" stroke-width="1.3" stroke-linejoin="round" style="font-size:31px">f</text>
<line x1="88.3" y1="1057.5" x2="88.3" y2="1297.2" stroke="#000" stroke-width="2.3"/>
<line x1="78.1" y1="1297.2" x2="88.3" y2="1297.2" stroke="#000" stroke-width="2.3"/>
<text x="70.8" y="1304.8" text-anchor="end">0</text>
<line x1="78.1" y1="1253.4" x2="88.3" y2="1253.4" stroke="#000" stroke-width="2.3"/>
<text x="70.8" y="1261" text-anchor="end">20</text>
<line x1="78.1" y1="1209.6" x2="88.3" y2="1209.6" stroke="#000" stroke-width="2.3"/>
<text x="70.8" y="1217.2" text-anchor="end">40</text>
<line x1="78.1" y1="1165.8" x2="88.3" y2="1165.8" stroke="#000" stroke-width="2.3"/>
<text x="70.8" y="1173.4" text-anchor="end">60</text>
<line x1="78.1" y1="1122" x2="88.3" y2="1122" stroke="#000" stroke-width="2.3"/>
<text x="70.8" y="1129.6" text-anchor="end">80</text>
<line x1="78.1" y1="1078.2" x2="88.3" y2="1078.2" stroke="#000" stroke-width="2.3"/>
<text x="70.8" y="1085.8" text-anchor="end">100</text>
<line x1="78.1" y1="1297.2" x2="447.4" y2="1297.2" stroke="#000" stroke-width="2.3"/>
<line x1="88.3" y1="1297.2" x2="88.3" y2="1306.7" stroke="#000" stroke-width="2.2"/>
<text x="88.3" y="1327.7" text-anchor="middle">0</text>
<line x1="143.33" y1="1297.2" x2="143.33" y2="1306.7" stroke="#000" stroke-width="2.2"/>
<text x="143.33" y="1327.7" text-anchor="middle">1</text>
<line x1="198.36" y1="1297.2" x2="198.36" y2="1306.7" stroke="#000" stroke-width="2.2"/>
<text x="198.36" y="1327.7" text-anchor="middle">2</text>
<line x1="253.39" y1="1297.2" x2="253.39" y2="1306.7" stroke="#000" stroke-width="2.2"/>
<text x="253.39" y="1327.7" text-anchor="middle">3</text>
<line x1="308.42" y1="1297.2" x2="308.42" y2="1306.7" stroke="#000" stroke-width="2.2"/>
<text x="308.42" y="1327.7" text-anchor="middle">4</text>
<line x1="363.45" y1="1297.2" x2="363.45" y2="1306.7" stroke="#000" stroke-width="2.2"/>
<text x="363.45" y="1327.7" text-anchor="middle">5</text>
<line x1="418.48" y1="1297.2" x2="418.48" y2="1306.7" stroke="#000" stroke-width="2.2"/>
<text x="418.48" y="1327.7" text-anchor="middle">6</text>
<polyline points="79.8,1336.4 79.8,1344.8 374.8,1344.8 374.8,1336.4" fill="none" stroke="#000" stroke-width="2.2"/>
<text x="197.9" y="1366.6" style="font-size:20.8px"><tspan font-style="italic">n</tspan> = 10</text>
<text x="396.9" y="1366.6" style="font-size:20.6px"><tspan font-style="italic">n</tspan> = 5</text>
<text x="139.68" y="1395.8" textLength="240.02" lengthAdjust="spacingAndGlyphs">Time after infection (days)</text>
<text x="180.92" y="1002.7" textLength="171.43" lengthAdjust="spacingAndGlyphs">DENV-1/West Pac</text>
<text transform="translate(16 1266.6) rotate(-90)" style="font-size:20.48px"><tspan>Survival rate (%)</tspan></text>
<polyline points="88.3,1078.2 143.33,1078.2 198.36,1078.2 253.39,1078.2 308.42,1078.2 308.42,1100.1 363.45,1100.1 363.45,1187.7 418.48,1187.7 418.48,1209.6" fill="none" stroke="#e8202a" stroke-width="1.6" stroke-dasharray="3.5 2.5"/>
<line x1="88.3" y1="1078.2" x2="418.48" y2="1078.2" stroke="#111" stroke-width="2.6" stroke-dasharray="6 4.5"/>
<line x1="88.3" y1="1078.2" x2="418.48" y2="1078.2" stroke="#3a55a8" stroke-width="1.2" stroke-dasharray="8 2"/>
<circle cx="143.33" cy="1078.2" r="5.7" fill="#e8202a" stroke="#000" stroke-width="2"/>
<circle cx="198.36" cy="1078.2" r="5.7" fill="#e8202a" stroke="#000" stroke-width="2"/>
<circle cx="253.39" cy="1078.2" r="5.7" fill="#e8202a" stroke="#000" stroke-width="2"/>
<circle cx="308.42" cy="1100.1" r="5.7" fill="#e8202a" stroke="#000" stroke-width="2"/>
<circle cx="363.45" cy="1187.7" r="5.7" fill="#e8202a" stroke="#000" stroke-width="2"/>
<circle cx="418.48" cy="1209.6" r="5.7" fill="#e8202a" stroke="#000" stroke-width="2"/>
<path d="M143.33,1067.6 L153.93,1078.2 L143.33,1088.8 L132.73,1078.2 Z" fill="none" stroke="#000" stroke-width="2.2" stroke-linejoin="miter"/>
<path d="M198.36,1067.6 L208.96,1078.2 L198.36,1088.8 L187.76,1078.2 Z" fill="none" stroke="#000" stroke-width="2.2" stroke-linejoin="miter"/>
<path d="M253.39,1067.6 L263.99,1078.2 L253.39,1088.8 L242.79,1078.2 Z" fill="none" stroke="#000" stroke-width="2.2" stroke-linejoin="miter"/>
<path d="M308.42,1067.6 L319.02,1078.2 L308.42,1088.8 L297.82,1078.2 Z" fill="none" stroke="#000" stroke-width="2.2" stroke-linejoin="miter"/>
<path d="M363.45,1067.6 L374.05,1078.2 L363.45,1088.8 L352.85,1078.2 Z" fill="none" stroke="#000" stroke-width="2.2" stroke-linejoin="miter"/>
<path d="M418.48,1067.6 L429.08,1078.2 L418.48,1088.8 L407.88,1078.2 Z" fill="none" stroke="#000" stroke-width="2.2" stroke-linejoin="miter"/>
<circle cx="143.33" cy="1078.2" r="4.9" fill="#3a55a8"/>
<circle cx="198.36" cy="1078.2" r="4.9" fill="#3a55a8"/>
<circle cx="253.39" cy="1078.2" r="4.9" fill="#3a55a8"/>
<circle cx="308.42" cy="1078.2" r="4.9" fill="#3a55a8"/>
<circle cx="363.45" cy="1078.2" r="4.9" fill="#3a55a8"/>
<circle cx="418.48" cy="1078.2" r="4.9" fill="#3a55a8"/>
<line x1="109.6" y1="1211.9" x2="135.9" y2="1211.9" stroke="#e8202a" stroke-width="1.4" stroke-dasharray="2.2 2.6"/>
<circle cx="122.3" cy="1211.9" r="5.7" fill="#e8202a" stroke="#000" stroke-width="2"/>
<path d="M122.3,1232.9 L133.6,1244.2 L122.3,1255.5 L111,1244.2 Z" fill="#fff" stroke="#000" stroke-width="2.2" stroke-linejoin="miter"/>
<line x1="108.7" y1="1272.6" x2="134.2" y2="1272.6" stroke="#3a55a8" stroke-width="2.2" stroke-dasharray="3.8 5.2"/>
<circle cx="121.4" cy="1272.6" r="4.6" fill="#3a55a8"/>
<polyline points="144.7,1211.9 154.9,1211.9 154.9,1274.3 144.7,1274.3" fill="none" stroke="#000" stroke-width="2.2"/>
<polyline points="166.1,1212.3 176.6,1212.3 176.6,1252.2 166.1,1252.2" fill="none" stroke="#000" stroke-width="2.2"/>
<text x="187.7" y="1236.9" style="font-size:20.64px"><tspan font-style="italic">P</tspan> = 0.0216</text>
<text x="163.9" y="1277.6" style="font-size:20.43px"><tspan font-style="italic">P</tspan> = 0.0216</text>
<text transform="translate(494 998) scale(1.17 1)" x="0" y="-0.65" font-weight="bold" stroke="#000" stroke-width="1.3" stroke-linejoin="round" style="font-size:31px">g</text>
<line x1="569.6" y1="1056.3" x2="569.6" y2="1296.2" stroke="#000" stroke-width="2.3"/>
<line x1="559.3" y1="1296.2" x2="569.6" y2="1296.2" stroke="#000" stroke-width="2.3"/>
<text x="553" y="1303.8" text-anchor="end">0</text>
<line x1="559.3" y1="1252.36" x2="569.6" y2="1252.36" stroke="#000" stroke-width="2.3"/>
<text x="553" y="1259.96" text-anchor="end">20</text>
<line x1="559.3" y1="1208.52" x2="569.6" y2="1208.52" stroke="#000" stroke-width="2.3"/>
<text x="553" y="1216.12" text-anchor="end">40</text>
<line x1="559.3" y1="1164.68" x2="569.6" y2="1164.68" stroke="#000" stroke-width="2.3"/>
<text x="553" y="1172.28" text-anchor="end">60</text>
<line x1="559.3" y1="1120.84" x2="569.6" y2="1120.84" stroke="#000" stroke-width="2.3"/>
<text x="553" y="1128.44" text-anchor="end">80</text>
<line x1="559.3" y1="1077" x2="569.6" y2="1077" stroke="#000" stroke-width="2.3"/>
<text x="553" y="1084.6" text-anchor="end">100</text>
<line x1="559.3" y1="1296.2" x2="928.2" y2="1296.2" stroke="#000" stroke-width="2.3"/>
<line x1="569.6" y1="1296.2" x2="569.6" y2="1305.7" stroke="#000" stroke-width="2.2"/>
<text x="569.6" y="1328.6" text-anchor="middle">0</text>
<line x1="624.6" y1="1296.2" x2="624.6" y2="1305.7" stroke="#000" stroke-width="2.2"/>
<text x="624.6" y="1328.6" text-anchor="middle">1</text>
<line x1="679.6" y1="1296.2" x2="679.6" y2="1305.7" stroke="#000" stroke-width="2.2"/>
<text x="679.6" y="1328.6" text-anchor="middle">2</text>
<line x1="734.6" y1="1296.2" x2="734.6" y2="1305.7" stroke="#000" stroke-width="2.2"/>
<text x="734.6" y="1328.6" text-anchor="middle">3</text>
<line x1="789.6" y1="1296.2" x2="789.6" y2="1305.7" stroke="#000" stroke-width="2.2"/>
<text x="789.6" y="1328.6" text-anchor="middle">4</text>
<line x1="844.6" y1="1296.2" x2="844.6" y2="1305.7" stroke="#000" stroke-width="2.2"/>
<text x="844.6" y="1328.6" text-anchor="middle">5</text>
<line x1="899.6" y1="1296.2" x2="899.6" y2="1305.7" stroke="#000" stroke-width="2.2"/>
<text x="899.6" y="1328.6" text-anchor="middle">6</text>
<polyline points="561.1,1337.1 561.1,1345.4 855.7,1345.4 855.7,1337.1" fill="none" stroke="#000" stroke-width="2.2"/>
<text x="669" y="1366.6" style="font-size:20.31px"><tspan font-style="italic">n</tspan> = 10–11</text>
<text x="875.2" y="1366.6" style="font-size:20.43px"><tspan font-style="italic">n</tspan> = 5</text>
<text x="629.68" y="1395" textLength="240.63" lengthAdjust="spacingAndGlyphs">Time after infection (days)</text>
<text x="660.31" y="1002.7" textLength="173.98" lengthAdjust="spacingAndGlyphs">DENV-3/C0360/94</text>
<text transform="translate(511 1262.3) rotate(-90)" style="font-size:20.63px"><tspan>Survival rate (%)</tspan></text>
<polyline points="569.6,1077 624.6,1077 679.6,1077 734.6,1077 734.6,1236.42 789.6,1236.42 789.6,1296.2" fill="none" stroke="#e8202a" stroke-width="1.6" stroke-dasharray="3.5 2.5"/>
<line x1="569.6" y1="1077" x2="899.6" y2="1077" stroke="#111" stroke-width="2.6" stroke-dasharray="6 4.5"/>
<line x1="569.6" y1="1077" x2="899.6" y2="1077" stroke="#3a55a8" stroke-width="1.2" stroke-dasharray="8 2"/>
<circle cx="624.6" cy="1077" r="5.7" fill="#e8202a" stroke="#000" stroke-width="2"/>
<circle cx="679.6" cy="1077" r="5.7" fill="#e8202a" stroke="#000" stroke-width="2"/>
<circle cx="734.6" cy="1236.42" r="5.7" fill="#e8202a" stroke="#000" stroke-width="2"/>
<circle cx="789.6" cy="1296.2" r="5.7" fill="#e8202a" stroke="#000" stroke-width="2"/>
<path d="M624.6,1066.4 L635.2,1077 L624.6,1087.6 L614,1077 Z" fill="none" stroke="#000" stroke-width="2.2" stroke-linejoin="miter"/>
<path d="M679.6,1066.4 L690.2,1077 L679.6,1087.6 L669,1077 Z" fill="none" stroke="#000" stroke-width="2.2" stroke-linejoin="miter"/>
<path d="M734.6,1066.4 L745.2,1077 L734.6,1087.6 L724,1077 Z" fill="none" stroke="#000" stroke-width="2.2" stroke-linejoin="miter"/>
<path d="M789.6,1066.4 L800.2,1077 L789.6,1087.6 L779,1077 Z" fill="none" stroke="#000" stroke-width="2.2" stroke-linejoin="miter"/>
<path d="M844.6,1066.4 L855.2,1077 L844.6,1087.6 L834,1077 Z" fill="none" stroke="#000" stroke-width="2.2" stroke-linejoin="miter"/>
<path d="M899.6,1066.4 L910.2,1077 L899.6,1087.6 L889,1077 Z" fill="none" stroke="#000" stroke-width="2.2" stroke-linejoin="miter"/>
<circle cx="624.6" cy="1077" r="4.9" fill="#3a55a8"/>
<circle cx="679.6" cy="1077" r="4.9" fill="#3a55a8"/>
<circle cx="734.6" cy="1077" r="4.9" fill="#3a55a8"/>
<circle cx="789.6" cy="1077" r="4.9" fill="#3a55a8"/>
<circle cx="844.6" cy="1077" r="4.9" fill="#3a55a8"/>
<circle cx="899.6" cy="1077" r="4.9" fill="#3a55a8"/>
<line x1="749.6" y1="1131.4" x2="775.9" y2="1131.4" stroke="#e8202a" stroke-width="1.4" stroke-dasharray="2.2 2.6"/>
<circle cx="762.3" cy="1131.4" r="5.7" fill="#e8202a" stroke="#000" stroke-width="2"/>
<path d="M762.3,1152.1 L773.6,1163.4 L762.3,1174.7 L751,1163.4 Z" fill="#fff" stroke="#000" stroke-width="2.2" stroke-linejoin="miter"/>
<line x1="748.3" y1="1192.4" x2="773.8" y2="1192.4" stroke="#3a55a8" stroke-width="2.2" stroke-dasharray="3.8 5.2"/>
<circle cx="761" cy="1192.4" r="4.6" fill="#3a55a8"/>
<polyline points="784.6,1131.4 794.7,1131.4 794.7,1194.2 784.6,1194.2" fill="none" stroke="#000" stroke-width="2.2"/>
<polyline points="806.2,1131.4 816.2,1131.4 816.2,1170.8 806.2,1170.8" fill="none" stroke="#000" stroke-width="2.2"/>
<text x="822.6" y="1154.9" style="font-size:20.27px"><tspan font-style="italic">P</tspan> &lt; 0.0001</text>
<text x="804.4" y="1197.7" style="font-size:20.37px"><tspan font-style="italic">P</tspan> &lt; 0.0001</text>
<text transform="translate(972.61 999) scale(1.17 1)" x="0" y="-0.65" font-weight="bold" stroke="#000" stroke-width="1.3" stroke-linejoin="round" style="font-size:31px">h</text>
<line x1="1051.1" y1="1058" x2="1051.1" y2="1297.7" stroke="#000" stroke-width="2.3"/>
<line x1="1040.5" y1="1297.7" x2="1051.1" y2="1297.7" stroke="#000" stroke-width="2.3"/>
<text x="1035.5" y="1305.3" text-anchor="end">0</text>
<line x1="1040.5" y1="1253.92" x2="1051.1" y2="1253.92" stroke="#000" stroke-width="2.3"/>
<text x="1035.5" y="1261.52" text-anchor="end">20</text>
<line x1="1040.5" y1="1210.14" x2="1051.1" y2="1210.14" stroke="#000" stroke-width="2.3"/>
<text x="1035.5" y="1217.74" text-anchor="end">40</text>
<line x1="1040.5" y1="1166.36" x2="1051.1" y2="1166.36" stroke="#000" stroke-width="2.3"/>
<text x="1035.5" y="1173.96" text-anchor="end">60</text>
<line x1="1040.5" y1="1122.58" x2="1051.1" y2="1122.58" stroke="#000" stroke-width="2.3"/>
<text x="1035.5" y="1130.18" text-anchor="end">80</text>
<line x1="1040.5" y1="1078.8" x2="1051.1" y2="1078.8" stroke="#000" stroke-width="2.3"/>
<text x="1035.5" y="1086.4" text-anchor="end">100</text>
<line x1="1040.5" y1="1297.7" x2="1409.8" y2="1297.7" stroke="#000" stroke-width="2.3"/>
<line x1="1051.1" y1="1297.7" x2="1051.1" y2="1307.2" stroke="#000" stroke-width="2.2"/>
<text x="1051.1" y="1329.5" text-anchor="middle">0</text>
<line x1="1106.08" y1="1297.7" x2="1106.08" y2="1307.2" stroke="#000" stroke-width="2.2"/>
<text x="1106.08" y="1329.5" text-anchor="middle">1</text>
<line x1="1161.06" y1="1297.7" x2="1161.06" y2="1307.2" stroke="#000" stroke-width="2.2"/>
<text x="1161.06" y="1329.5" text-anchor="middle">2</text>
<line x1="1216.04" y1="1297.7" x2="1216.04" y2="1307.2" stroke="#000" stroke-width="2.2"/>
<text x="1216.04" y="1329.5" text-anchor="middle">3</text>
<line x1="1271.02" y1="1297.7" x2="1271.02" y2="1307.2" stroke="#000" stroke-width="2.2"/>
<text x="1271.02" y="1329.5" text-anchor="middle">4</text>
<line x1="1326" y1="1297.7" x2="1326" y2="1307.2" stroke="#000" stroke-width="2.2"/>
<text x="1326" y="1329.5" text-anchor="middle">5</text>
<line x1="1380.98" y1="1297.7" x2="1380.98" y2="1307.2" stroke="#000" stroke-width="2.2"/>
<text x="1380.98" y="1329.5" text-anchor="middle">6</text>
<polyline points="1043.5,1336.6 1043.5,1344.9 1338.2,1344.9 1338.2,1336.6" fill="none" stroke="#000" stroke-width="2.2"/>
<text x="1168.2" y="1366.6" style="font-size:20.33px"><tspan font-style="italic">n</tspan> = 10</text>
<text x="1362" y="1366.6" style="font-size:20.43px"><tspan font-style="italic">n</tspan> = 5</text>
<text x="1094.38" y="1395" textLength="239.82" lengthAdjust="spacingAndGlyphs">Time after infection (days)</text>
<text x="1161.61" y="1002.7" textLength="134.78" lengthAdjust="spacingAndGlyphs">DENV-4/703/4</text>
<text transform="translate(991 1265.8) rotate(-90)" style="font-size:20.51px"><tspan>Survival rate (%)</tspan></text>
<polyline points="1051.1,1078.8 1106.08,1078.8 1161.06,1078.8 1216.04,1078.8 1216.04,1122.58 1271.02,1122.58 1271.02,1297.7" fill="none" stroke="#e8202a" stroke-width="1.6" stroke-dasharray="3.5 2.5"/>
<line x1="1051.1" y1="1078.8" x2="1380.98" y2="1078.8" stroke="#111" stroke-width="2.6" stroke-dasharray="6 4.5"/>
<line x1="1051.1" y1="1078.8" x2="1380.98" y2="1078.8" stroke="#3a55a8" stroke-width="1.2" stroke-dasharray="8 2"/>
<circle cx="1106.08" cy="1078.8" r="5.7" fill="#e8202a" stroke="#000" stroke-width="2"/>
<circle cx="1161.06" cy="1078.8" r="5.7" fill="#e8202a" stroke="#000" stroke-width="2"/>
<circle cx="1216.04" cy="1122.58" r="5.7" fill="#e8202a" stroke="#000" stroke-width="2"/>
<circle cx="1271.02" cy="1297.7" r="5.7" fill="#e8202a" stroke="#000" stroke-width="2"/>
<path d="M1106.08,1068.2 L1116.68,1078.8 L1106.08,1089.4 L1095.48,1078.8 Z" fill="none" stroke="#000" stroke-width="2.2" stroke-linejoin="miter"/>
<path d="M1161.06,1068.2 L1171.66,1078.8 L1161.06,1089.4 L1150.46,1078.8 Z" fill="none" stroke="#000" stroke-width="2.2" stroke-linejoin="miter"/>
<path d="M1216.04,1068.2 L1226.64,1078.8 L1216.04,1089.4 L1205.44,1078.8 Z" fill="none" stroke="#000" stroke-width="2.2" stroke-linejoin="miter"/>
<path d="M1271.02,1068.2 L1281.62,1078.8 L1271.02,1089.4 L1260.42,1078.8 Z" fill="none" stroke="#000" stroke-width="2.2" stroke-linejoin="miter"/>
<path d="M1326,1068.2 L1336.6,1078.8 L1326,1089.4 L1315.4,1078.8 Z" fill="none" stroke="#000" stroke-width="2.2" stroke-linejoin="miter"/>
<path d="M1380.98,1068.2 L1391.58,1078.8 L1380.98,1089.4 L1370.38,1078.8 Z" fill="none" stroke="#000" stroke-width="2.2" stroke-linejoin="miter"/>
<circle cx="1106.08" cy="1078.8" r="4.9" fill="#3a55a8"/>
<circle cx="1161.06" cy="1078.8" r="4.9" fill="#3a55a8"/>
<circle cx="1216.04" cy="1078.8" r="4.9" fill="#3a55a8"/>
<circle cx="1271.02" cy="1078.8" r="4.9" fill="#3a55a8"/>
<circle cx="1326" cy="1078.8" r="4.9" fill="#3a55a8"/>
<circle cx="1380.98" cy="1078.8" r="4.9" fill="#3a55a8"/>
<line x1="1076.8" y1="1210.4" x2="1103.1" y2="1210.4" stroke="#e8202a" stroke-width="1.4" stroke-dasharray="2.2 2.6"/>
<circle cx="1089.5" cy="1210.4" r="5.7" fill="#e8202a" stroke="#000" stroke-width="2"/>
<path d="M1089.5,1231 L1100.8,1242.3 L1089.5,1253.6 L1078.2,1242.3 Z" fill="#fff" stroke="#000" stroke-width="2.2" stroke-linejoin="miter"/>
<line x1="1075.6" y1="1271.1" x2="1101.1" y2="1271.1" stroke="#3a55a8" stroke-width="2.2" stroke-dasharray="3.8 5.2"/>
<circle cx="1088.3" cy="1271.1" r="4.6" fill="#3a55a8"/>
<polyline points="1111.6,1210.4 1121.4,1210.4 1121.4,1272.4 1111.6,1272.4" fill="none" stroke="#000" stroke-width="2.2"/>
<polyline points="1132.9,1210.4 1143.1,1210.4 1143.1,1249.9 1132.9,1249.9" fill="none" stroke="#000" stroke-width="2.2"/>
<text x="1154.1" y="1232" style="font-size:20.37px"><tspan font-style="italic">P</tspan> &lt; 0.0001</text>
<text x="1134.3" y="1275.5" style="font-size:20.27px"><tspan font-style="italic">P</tspan> &lt; 0.0001</text>
<line x1="275.7" y1="1027.5" x2="301.4" y2="1027.5" stroke="#e8202a" stroke-width="1.4" stroke-dasharray="2.2 2.6"/>
<circle cx="288.6" cy="1027.5" r="5.7" fill="#e8202a" stroke="#000" stroke-width="2"/>
<text x="315.4" y="1033.7" textLength="67.54" lengthAdjust="spacingAndGlyphs">Vehicle</text>
<path d="M483.8,1013.9 L495.1,1025.2 L483.8,1036.5 L472.5,1025.2 Z" fill="#fff" stroke="#000" stroke-width="2.2" stroke-linejoin="miter"/>
<text x="508.98" y="1033.7" textLength="406.06" lengthAdjust="spacingAndGlyphs">JNJ-1802 60 mg per kg per day, twice daily</text>
<line x1="950.6" y1="1029.6" x2="976.3" y2="1029.6" stroke="#3a55a8" stroke-width="2.2" stroke-dasharray="3.8 5.2"/>
<circle cx="963" cy="1029.6" r="4.6" fill="#3a55a8"/>
<text x="985.28" y="1033.7" textLength="394.44" lengthAdjust="spacingAndGlyphs">JNJ-1802 6 mg per kg per day, twice daily</text>
<text transform="translate(2.31 1438.4) scale(1.17 1)" x="0" y="-0.65" font-weight="bold" stroke="#000" stroke-width="1.3" stroke-linejoin="round" style="font-size:31px">i</text>
<line x1="87" y1="1487.5" x2="87" y2="1726.5" stroke="#000" stroke-width="2.3"/>
<line x1="77.3" y1="1726.5" x2="87" y2="1726.5" stroke="#000" stroke-width="2.3"/>
<text x="69.8" y="1734.1" text-anchor="end">0</text>
<line x1="77.3" y1="1678.7" x2="87" y2="1678.7" stroke="#000" stroke-width="2.3"/>
<text x="69.8" y="1686.3" text-anchor="end">2</text>
<line x1="77.3" y1="1630.9" x2="87" y2="1630.9" stroke="#000" stroke-width="2.3"/>
<text x="69.8" y="1638.5" text-anchor="end">4</text>
<line x1="77.3" y1="1583.1" x2="87" y2="1583.1" stroke="#000" stroke-width="2.3"/>
<text x="69.8" y="1590.7" text-anchor="end">6</text>
<line x1="77.3" y1="1535.3" x2="87" y2="1535.3" stroke="#000" stroke-width="2.3"/>
<text x="69.8" y="1542.9" text-anchor="end">8</text>
<line x1="77.3" y1="1487.5" x2="87" y2="1487.5" stroke="#000" stroke-width="2.3"/>
<text x="69.8" y="1495.1" text-anchor="end">10</text>
<line x1="77.3" y1="1726.5" x2="416.9" y2="1726.5" stroke="#000" stroke-width="2.3"/>
<line x1="152.5" y1="1726.5" x2="152.5" y2="1736.5" stroke="#000" stroke-width="2.2"/>
<line x1="250.6" y1="1726.5" x2="250.6" y2="1736.5" stroke="#000" stroke-width="2.2"/>
<line x1="349.6" y1="1726.5" x2="349.6" y2="1736.5" stroke="#000" stroke-width="2.2"/>
<line x1="89" y1="1686.6" x2="416" y2="1686.6" stroke="#333" stroke-width="1.2" stroke-dasharray="1.2 2.2"/>
<text x="421.3" y="1692.8">LOD</text>
<text x="120.89" y="1763.3" textLength="67.75" lengthAdjust="spacingAndGlyphs">Vehicle</text>
<text x="224.31" y="1763.3" textLength="60.59" lengthAdjust="spacingAndGlyphs">60 mg</text>
<text x="327.49" y="1763.3" textLength="49.43" lengthAdjust="spacingAndGlyphs">6 mg</text>
<polyline points="223.5,1773 223.5,1782 385.4,1782 385.4,1773" fill="none" stroke="#000" stroke-width="2.2"/>
<text x="206.38" y="1806" textLength="199.98" lengthAdjust="spacingAndGlyphs">JNJ-1802, twice daily</text>
<polyline points="152.5,1462.7 152.5,1459.1 246.8,1459.1 246.8,1462.7" fill="none" stroke="#000" stroke-width="2.2"/>
<text x="161.95" y="1452.7" textLength="76.35" lengthAdjust="spacingAndGlyphs" style="font-size:20px">&lt;0.0001</text>
<polyline points="152.5,1479.6 152.5,1476 349,1476 349,1479.6" fill="none" stroke="#000" stroke-width="2.2"/>
<text x="271.76" y="1469.3" textLength="64.36" lengthAdjust="spacingAndGlyphs" style="font-size:20px">0.0015</text>
<line x1="119.7" y1="1524.8" x2="185.1" y2="1524.8" stroke="#000" stroke-width="2.3"/>
<line x1="218.2" y1="1622.6" x2="272.6" y2="1622.6" stroke="#000" stroke-width="2.3"/>
<line x1="317" y1="1573.4" x2="382.5" y2="1573.4" stroke="#000" stroke-width="2.3"/>
<circle cx="125.7" cy="1507" r="5.4" fill="#e8202a" stroke="#000" stroke-width="2"/>
<circle cx="143.5" cy="1516.3" r="5.4" fill="#e8202a" stroke="#000" stroke-width="2"/>
<circle cx="161.4" cy="1518" r="5.4" fill="#e8202a" stroke="#000" stroke-width="2"/>
<circle cx="179.2" cy="1509.2" r="5.4" fill="#e8202a" stroke="#000" stroke-width="2"/>
<circle cx="152.5" cy="1573.2" r="5.4" fill="#e8202a" stroke="#000" stroke-width="2"/>
<circle cx="224.3" cy="1616.3" r="5.4" fill="#fff" stroke="#000" stroke-width="2"/>
<circle cx="224.3" cy="1629.6" r="5.4" fill="#fff" stroke="#000" stroke-width="2"/>
<circle cx="242" cy="1619.7" r="5.4" fill="#fff" stroke="#000" stroke-width="2"/>
<circle cx="259.8" cy="1628.9" r="5.4" fill="#fff" stroke="#000" stroke-width="2"/>
<circle cx="278" cy="1620" r="5.4" fill="#fff" stroke="#000" stroke-width="2"/>
<circle cx="330.5" cy="1558.5" r="4.6" fill="#3a55a8" stroke="#000" stroke-width="1.8"/>
<circle cx="349.6" cy="1566.6" r="4.6" fill="#3a55a8" stroke="#000" stroke-width="1.8"/>
<circle cx="349.6" cy="1577.7" r="4.6" fill="#3a55a8" stroke="#000" stroke-width="1.8"/>
<circle cx="330.5" cy="1583" r="4.6" fill="#3a55a8" stroke="#000" stroke-width="1.8"/>
<circle cx="368.7" cy="1583" r="4.6" fill="#3a55a8" stroke="#000" stroke-width="1.8"/>
<text transform="translate(19 1738.4) rotate(-90)" style="font-size:20.94px"><tspan>log</tspan><tspan style="font-size:14.24px" dy="6.28">10</tspan><tspan dy="-6.28">[viral RNA copies per ml]</tspan></text>
<text transform="translate(475.09 1446) scale(1.17 1)" x="0" y="-0.65" font-weight="bold" stroke="#000" stroke-width="1.3" stroke-linejoin="round" style="font-size:31px">j</text>
<line x1="566.9" y1="1487.8" x2="566.9" y2="1727.2" stroke="#000" stroke-width="2.3"/>
<line x1="557.2" y1="1727.2" x2="566.9" y2="1727.2" stroke="#000" stroke-width="2.3"/>
<text x="548.5" y="1734.8" text-anchor="end">0</text>
<line x1="557.2" y1="1679.32" x2="566.9" y2="1679.32" stroke="#000" stroke-width="2.3"/>
<text x="548.5" y="1686.92" text-anchor="end">2</text>
<line x1="557.2" y1="1631.44" x2="566.9" y2="1631.44" stroke="#000" stroke-width="2.3"/>
<text x="548.5" y="1639.04" text-anchor="end">4</text>
<line x1="557.2" y1="1583.56" x2="566.9" y2="1583.56" stroke="#000" stroke-width="2.3"/>
<text x="548.5" y="1591.16" text-anchor="end">6</text>
<line x1="557.2" y1="1535.68" x2="566.9" y2="1535.68" stroke="#000" stroke-width="2.3"/>
<text x="548.5" y="1543.28" text-anchor="end">8</text>
<line x1="557.2" y1="1487.8" x2="566.9" y2="1487.8" stroke="#000" stroke-width="2.3"/>
<text x="548.5" y="1495.4" text-anchor="end">10</text>
<line x1="557.2" y1="1727.2" x2="896.9" y2="1727.2" stroke="#000" stroke-width="2.3"/>
<line x1="633" y1="1727.2" x2="633" y2="1737.2" stroke="#000" stroke-width="2.2"/>
<line x1="730.7" y1="1727.2" x2="730.7" y2="1737.2" stroke="#000" stroke-width="2.2"/>
<line x1="829.5" y1="1727.2" x2="829.5" y2="1737.2" stroke="#000" stroke-width="2.2"/>
<line x1="568.9" y1="1686.7" x2="895.5" y2="1686.7" stroke="#333" stroke-width="1.2" stroke-dasharray="1.2 2.2"/>
<text x="901.1" y="1692.9">LOD</text>
<text x="601.8" y="1763.1" textLength="66.73" lengthAdjust="spacingAndGlyphs">Vehicle</text>
<text x="704.11" y="1763.1" textLength="60.59" lengthAdjust="spacingAndGlyphs">60 mg</text>
<text x="807.49" y="1763.1" textLength="49.43" lengthAdjust="spacingAndGlyphs">6 mg</text>
<polyline points="703,1773.6 703,1782 865.2,1782 865.2,1773.6" fill="none" stroke="#000" stroke-width="2.2"/>
<text x="687.08" y="1805" textLength="200.89" lengthAdjust="spacingAndGlyphs">JNJ-1802, twice daily</text>
<polyline points="633,1493.9 633,1490.3 728.4,1490.3 728.4,1493.9" fill="none" stroke="#000" stroke-width="2.2"/>
<text x="644.37" y="1482.9" textLength="63.65" lengthAdjust="spacingAndGlyphs" style="font-size:20px">0.0022</text>
<polyline points="633,1510.6 633,1507 828,1507 828,1510.6" fill="none" stroke="#000" stroke-width="2.2"/>
<text x="751.67" y="1499.3" textLength="63.73" lengthAdjust="spacingAndGlyphs" style="font-size:20px">0.0254</text>
<line x1="599.6" y1="1640" x2="665.3" y2="1640" stroke="#000" stroke-width="2.3"/>
<line x1="797.2" y1="1681.9" x2="862.9" y2="1681.9" stroke="#000" stroke-width="2.3"/>
<circle cx="605.3" cy="1646.5" r="5.4" fill="#e8202a" stroke="#000" stroke-width="2"/>
<circle cx="618.9" cy="1630" r="5.4" fill="#e8202a" stroke="#000" stroke-width="2"/>
<circle cx="632.5" cy="1645" r="5.4" fill="#e8202a" stroke="#000" stroke-width="2"/>
<circle cx="645.8" cy="1632.3" r="5.4" fill="#e8202a" stroke="#000" stroke-width="2"/>
<circle cx="659.1" cy="1646.2" r="5.4" fill="#e8202a" stroke="#000" stroke-width="2"/>
<circle cx="704.4" cy="1686.7" r="5.4" fill="#fff" stroke="#000" stroke-width="2"/>
<circle cx="717.1" cy="1686.7" r="5.4" fill="#fff" stroke="#000" stroke-width="2"/>
<circle cx="730.7" cy="1686.7" r="5.4" fill="#fff" stroke="#000" stroke-width="2"/>
<circle cx="744" cy="1686.7" r="5.4" fill="#fff" stroke="#000" stroke-width="2"/>
<circle cx="758.2" cy="1686.7" r="5.4" fill="#fff" stroke="#000" stroke-width="2"/>
<circle cx="802.9" cy="1670.5" r="5.5" fill="#3a55a8" stroke="#000" stroke-width="1.8"/>
<circle cx="821" cy="1678.2" r="5.5" fill="#3a55a8" stroke="#000" stroke-width="1.8"/>
<circle cx="802.9" cy="1686.7" r="5.5" fill="#3a55a8" stroke="#000" stroke-width="1.8"/>
<circle cx="838.8" cy="1686.7" r="5.5" fill="#3a55a8" stroke="#000" stroke-width="1.8"/>
<circle cx="856.7" cy="1686.7" r="5.5" fill="#3a55a8" stroke="#000" stroke-width="1.8"/>
<text transform="translate(506.1 1741.8) rotate(-90)" style="font-size:20.9px"><tspan>log</tspan><tspan style="font-size:14.21px" dy="6.27">10</tspan><tspan dy="-6.27">[viral RNA copies per ml]</tspan></text>
<text transform="translate(959.01 1443.2) scale(1.17 1)" x="0" y="-0.65" font-weight="bold" stroke="#000" stroke-width="1.3" stroke-linejoin="round" style="font-size:31px">k</text>
<line x1="1036.8" y1="1488.7" x2="1036.8" y2="1727.5" stroke="#000" stroke-width="2.3"/>
<line x1="1027" y1="1727.5" x2="1036.8" y2="1727.5" stroke="#000" stroke-width="2.3"/>
<text x="1019.8" y="1735.1" text-anchor="end">0</text>
<line x1="1027" y1="1679.74" x2="1036.8" y2="1679.74" stroke="#000" stroke-width="2.3"/>
<text x="1019.8" y="1687.34" text-anchor="end">2</text>
<line x1="1027" y1="1631.98" x2="1036.8" y2="1631.98" stroke="#000" stroke-width="2.3"/>
<text x="1019.8" y="1639.58" text-anchor="end">4</text>
<line x1="1027" y1="1584.22" x2="1036.8" y2="1584.22" stroke="#000" stroke-width="2.3"/>
<text x="1019.8" y="1591.82" text-anchor="end">6</text>
<line x1="1027" y1="1536.46" x2="1036.8" y2="1536.46" stroke="#000" stroke-width="2.3"/>
<text x="1019.8" y="1544.06" text-anchor="end">8</text>
<line x1="1027" y1="1488.7" x2="1036.8" y2="1488.7" stroke="#000" stroke-width="2.3"/>
<text x="1019.8" y="1496.3" text-anchor="end">10</text>
<line x1="1027" y1="1727.5" x2="1366.1" y2="1727.5" stroke="#000" stroke-width="2.3"/>
<line x1="1102.4" y1="1727.5" x2="1102.4" y2="1737.5" stroke="#000" stroke-width="2.2"/>
<line x1="1200.8" y1="1727.5" x2="1200.8" y2="1737.5" stroke="#000" stroke-width="2.2"/>
<line x1="1299.2" y1="1727.5" x2="1299.2" y2="1737.5" stroke="#000" stroke-width="2.2"/>
<line x1="1038.8" y1="1687.4" x2="1366" y2="1687.4" stroke="#333" stroke-width="1.2" stroke-dasharray="1.2 2.2"/>
<text x="1371" y="1693.6">LOD</text>
<text x="1071.1" y="1763.3" textLength="67.44" lengthAdjust="spacingAndGlyphs">Vehicle</text>
<text x="1173.91" y="1763.3" textLength="60.59" lengthAdjust="spacingAndGlyphs">60 mg</text>
<text x="1277.79" y="1763.3" textLength="49.43" lengthAdjust="spacingAndGlyphs">6 mg</text>
<polyline points="1172.3,1773.3 1172.3,1781.4 1335,1781.4 1335,1773.3" fill="none" stroke="#000" stroke-width="2.2"/>
<text x="1157.08" y="1805.3" textLength="200.89" lengthAdjust="spacingAndGlyphs">JNJ-1802, twice daily</text>
<polyline points="1102.4,1490.6 1102.4,1487 1198,1487 1198,1490.6" fill="none" stroke="#000" stroke-width="2.2"/>
<text x="1112.17" y="1479.4" textLength="63.23" lengthAdjust="spacingAndGlyphs" style="font-size:20px">0.0022</text>
<polyline points="1102.4,1507.5 1102.4,1503.9 1298.4,1503.9 1298.4,1507.5" fill="none" stroke="#000" stroke-width="2.2"/>
<text x="1221.16" y="1494.9" textLength="64.24" lengthAdjust="spacingAndGlyphs" style="font-size:20px">0.0254</text>
<line x1="1069.3" y1="1574.9" x2="1135.7" y2="1574.9" stroke="#000" stroke-width="2.3"/>
<line x1="1266.7" y1="1666" x2="1332.8" y2="1666" stroke="#000" stroke-width="2.3"/>
<circle cx="1075.5" cy="1562.7" r="5.4" fill="#e8202a" stroke="#000" stroke-width="2"/>
<circle cx="1075.5" cy="1583.8" r="5.4" fill="#e8202a" stroke="#000" stroke-width="2"/>
<circle cx="1093.7" cy="1572.2" r="5.4" fill="#e8202a" stroke="#000" stroke-width="2"/>
<circle cx="1111.3" cy="1576.8" r="5.4" fill="#e8202a" stroke="#000" stroke-width="2"/>
<circle cx="1129.8" cy="1576.8" r="5.4" fill="#e8202a" stroke="#000" stroke-width="2"/>
<circle cx="1174.5" cy="1687.4" r="5.4" fill="#fff" stroke="#000" stroke-width="2"/>
<circle cx="1187.2" cy="1687.4" r="5.4" fill="#fff" stroke="#000" stroke-width="2"/>
<circle cx="1200.8" cy="1687.4" r="5.4" fill="#fff" stroke="#000" stroke-width="2"/>
<circle cx="1214.3" cy="1687.4" r="5.4" fill="#fff" stroke="#000" stroke-width="2"/>
<circle cx="1227.9" cy="1687.4" r="5.4" fill="#fff" stroke="#000" stroke-width="2"/>
<circle cx="1286.2" cy="1631.3" r="5.5" fill="#3a55a8" stroke="#000" stroke-width="1.8"/>
<circle cx="1312.7" cy="1635.3" r="5.5" fill="#3a55a8" stroke="#000" stroke-width="1.8"/>
<circle cx="1273.4" cy="1687.4" r="5.5" fill="#3a55a8" stroke="#000" stroke-width="1.8"/>
<circle cx="1299.7" cy="1687.4" r="5.5" fill="#3a55a8" stroke="#000" stroke-width="1.8"/>
<circle cx="1326.3" cy="1687.4" r="5.5" fill="#3a55a8" stroke="#000" stroke-width="1.8"/>
<text transform="translate(976.5 1746.2) rotate(-90)" style="font-size:20.9px"><tspan>log</tspan><tspan style="font-size:14.21px" dy="6.27">10</tspan><tspan dy="-6.27">[viral RNA copies per ml]</tspan></text>
</svg></body></html>
